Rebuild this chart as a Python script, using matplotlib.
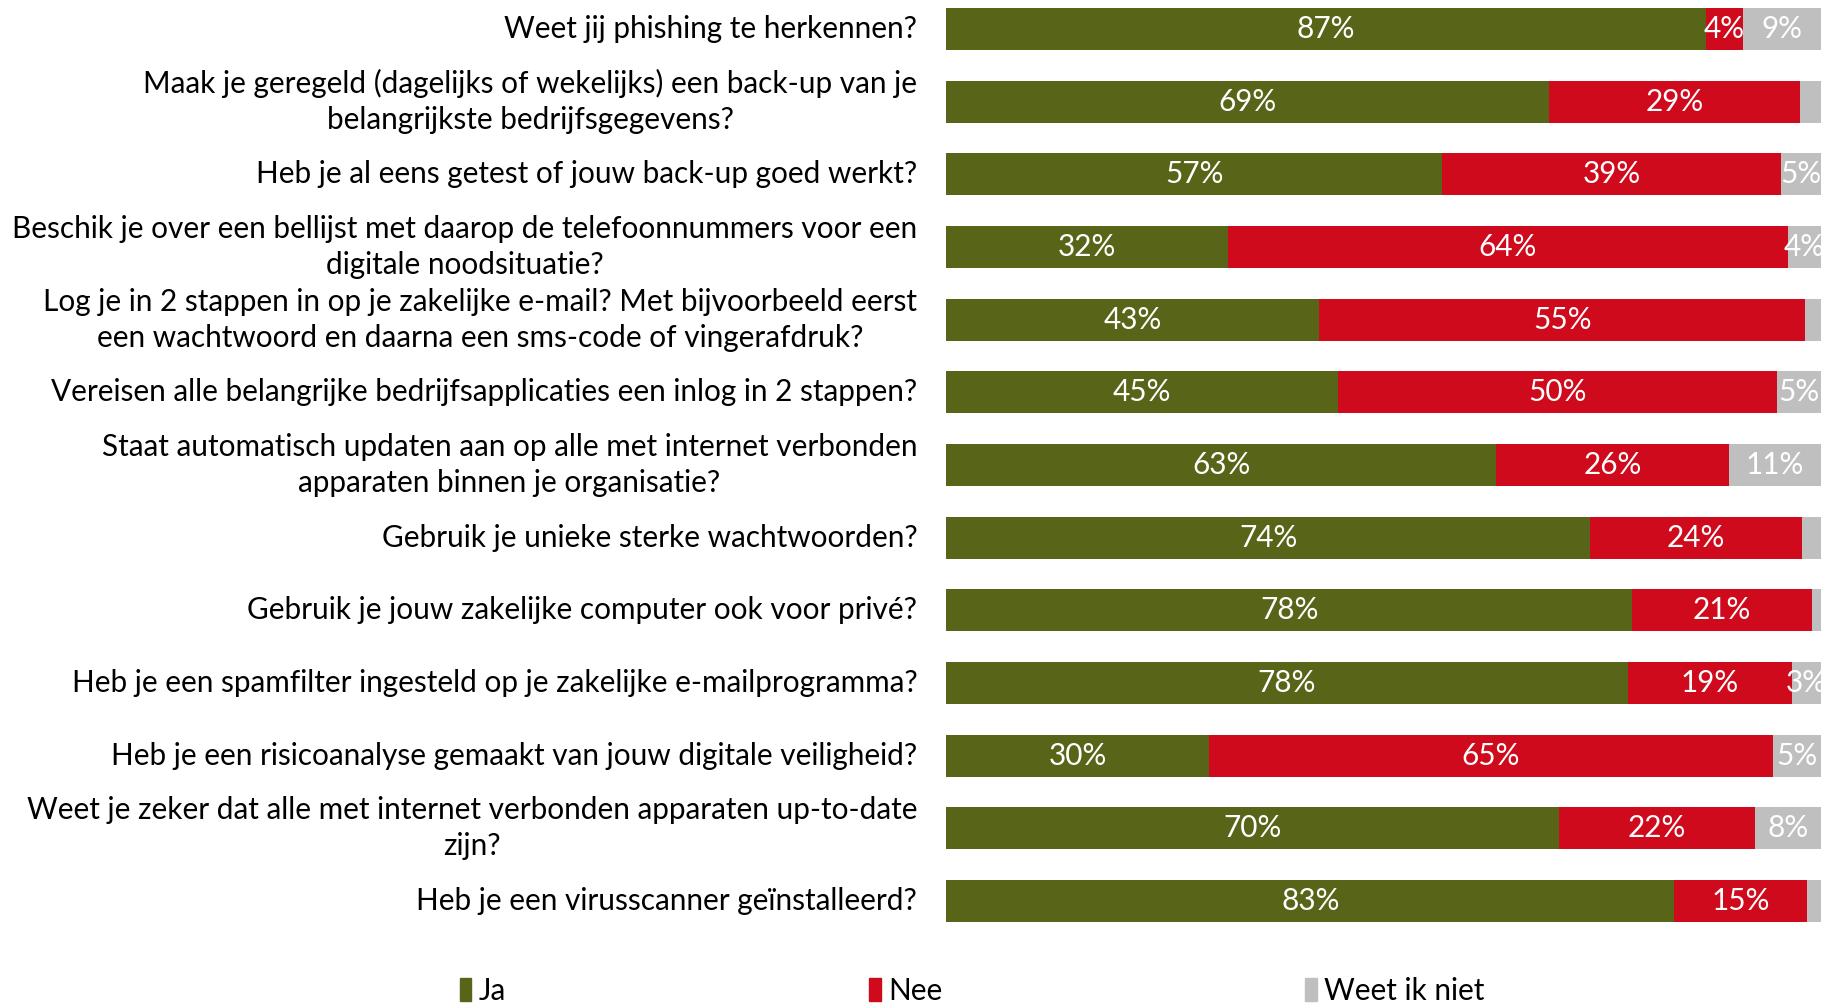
import matplotlib
matplotlib.use('Agg')
import matplotlib.pyplot as plt
from matplotlib.patches import Patch
import numpy as np

plt.rcParams['font.family'] = ['Lato', 'DejaVu Sans']

vragen = ['Weet jij phishing te herkennen?',
          'Maak je geregeld (dagelijks of wekelijks) een back-up van je\nbelangrijkste bedrijfsgegevens?',
          'Heb je al eens getest of jouw back-up goed werkt?',
          'Beschik je over een bellijst met daarop de telefoonnummers voor een\ndigitale noodsituatie?',
          'Log je in 2 stappen in op je zakelijke e-mail? Met bijvoorbeeld eerst\neen wachtwoord en daarna een sms-code of vingerafdruk?',
          'Vereisen alle belangrijke bedrijfsapplicaties een inlog in 2 stappen?',
          'Staat automatisch updaten aan op alle met internet verbonden\napparaten binnen je organisatie?',
          'Gebruik je unieke sterke wachtwoorden?',
          'Gebruik je jouw zakelijke computer ook voor privé?',
          'Heb je een spamfilter ingesteld op je zakelijke e-mailprogramma?',
          'Heb je een risicoanalyse gemaakt van jouw digitale veiligheid?',
          'Weet je zeker dat alle met internet verbonden apparaten up-to-date\nzijn?',
          'Heb je een virusscanner geïnstalleerd?']

ja   = [86.8, 68.9, 56.7, 32.2, 42.6, 44.8, 62.9, 73.6, 78.4, 77.9, 30.0, 70.0, 83.2]
nee  = [4.3, 28.7, 38.7, 64.0, 55.6, 50.2, 26.6, 24.2, 20.6, 18.8, 64.5, 22.5, 15.2]
weet = [8.9, 2.4, 4.6, 3.8, 1.8, 5.0, 10.5, 2.2, 1.0, 3.3, 5.5, 7.5, 1.6]

ja_lbl   = ['87%', '69%', '57%', '32%', '43%', '45%', '63%', '74%', '78%', '78%', '30%', '70%', '83%']
nee_lbl  = ['4%', '29%', '39%', '64%', '55%', '50%', '26%', '24%', '21%', '19%', '65%', '22%', '15%']
weet_lbl = ['9%', '', '5%', '4%', '', '5%', '11%', '', '', '3%', '5%', '8%', '']

groen = '#586518'
rood = '#D00A1D'
grijs = '#BFBFBF'

fig = plt.figure(figsize=(18.27, 10.05), dpi=100)
ax = fig.add_axes([0.518, 0.0674, 0.4787, 0.9326])

y = np.arange(len(vragen))
ja = np.array(ja)
nee = np.array(nee)
weet = np.array(weet)
h = 0.58

b1 = ax.barh(y, ja, height=h, color=groen)
b2 = ax.barh(y, nee, left=ja, height=h, color=rood)
b3 = ax.barh(y, weet, left=ja + nee, height=h, color=grijs)

fs = 21.4
for bars, lbls in [(b1, ja_lbl), (b2, nee_lbl), (b3, weet_lbl)]:
    ax.bar_label(bars, labels=lbls, label_type='center', color='white', fontsize=fs)

ax.set_xlim(0, 100)
ax.set_ylim(12.5, -0.4)
ax.set_yticks(y)
ax.set_yticklabels(vragen, fontsize=fs, multialignment='center', linespacing=1.36, va='center')
ax.tick_params(axis='y', length=0, pad=21)
ax.set_xticks([])
for s in ax.spines.values():
    s.set_visible(False)

handles = [Patch(color=groen, label='Ja'),
           Patch(color=rood, label='Nee'),
           Patch(color=grijs, label='Weet ik niet')]
fig.legend(handles=handles, loc='center left', bbox_to_anchor=(0.245, 0.014), ncol=3,
           frameon=False, fontsize=fs, handlelength=0.4, handleheight=0.8,
           handletextpad=0.25, columnspacing=12.2, borderaxespad=0)

fig.savefig('out.png', dpi=100)
